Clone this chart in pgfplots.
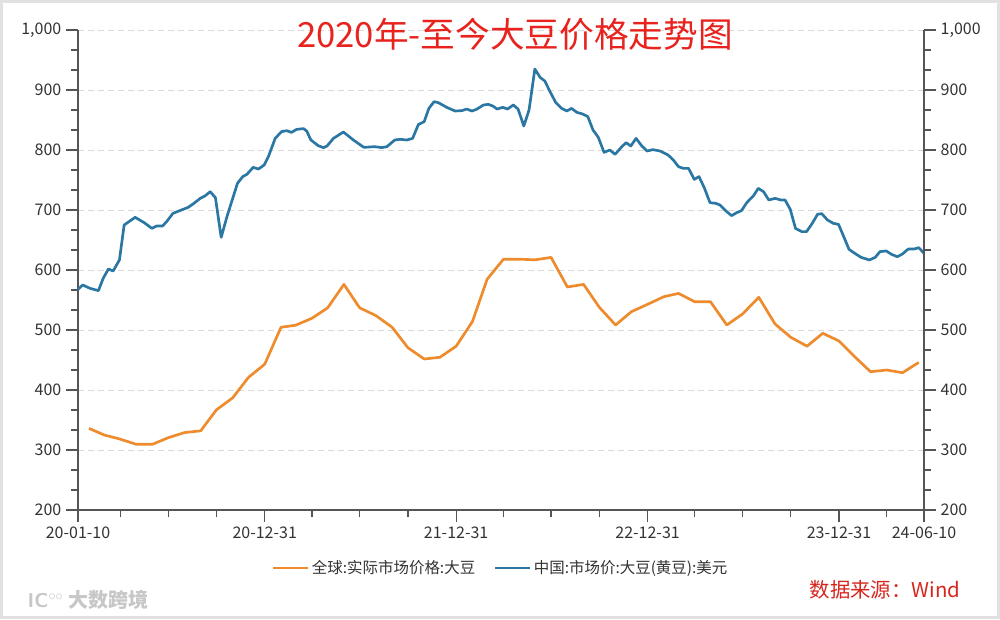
\documentclass[border=0pt]{standalone}
\usepackage{fontspec}
\setmainfont{Noto Sans CJK SC}
\usepackage{pgfplots}
\pgfplotsset{compat=1.18}
\definecolor{cblue}{HTML}{2A77A3}
\definecolor{corange}{HTML}{EE8B2C}
\definecolor{axgray}{HTML}{555555}
\definecolor{gridgray}{HTML}{D9D9D9}
\definecolor{titlered}{HTML}{E8231E}
\definecolor{srcred}{HTML}{D7261E}
\definecolor{labgray}{HTML}{333333}

\pgfplotsset{
  common/.style={
    at={(58.5pt,81.75pt)}, anchor=south west, scale only axis,
    width=634.5pt, height=360pt,
    xmin=0, xmax=1613, ymin=200, ymax=1000,
    ytick={200,300,...,1000}, minor y tick num=2,
    tick align=outside, major tick length=9pt, minor tick length=5pt,
    every tick/.style={axgray, line width=0.9pt},
    axis line style={axgray, line width=1.1pt},
    tick label style={font=\fontsize{12}{14}\selectfont, text=labgray},
    /pgf/number format/assume math mode=true,
    /pgf/number format/1000 sep={,},
    scaled y ticks=false,
    clip=false,
  }
}

\begin{document}
\begin{tikzpicture}
\path[use as bounding box] (0,0) rectangle (750pt,464.25pt);
\fill[white] (0,0) rectangle (750pt,464.25pt);
\draw[gridgray!80, line width=2.25pt] (1.125pt,1.125pt) rectangle (748.875pt,463.125pt);

\begin{axis}[common,
  axis x line*=bottom, axis y line*=left,
  xtick={0,356,721,1086,1451,1613},
  xticklabels={20-01-10,20-12-31,21-12-31,22-12-31,23-12-31,24-06-10},
  minor xtick={81,172,264,446,537,629,811,902,994,1176,1267,1359,1542},
  ymajorgrids,
  grid style={gridgray, line width=0.75pt, dash pattern=on 4.5pt off 3pt},
  legend style={at={(0.5,-0.121)}, anchor=center, draw=none, fill=none,
    font=\fontsize{11.6}{14}\selectfont, text=labgray,
    /tikz/every even column/.append style={column sep=12pt}},
  legend columns=2,
  legend image code/.code={\path (0pt,0pt) -- (26pt,0pt);\draw[#1] (0pt,0pt) -- (22pt,0pt);},
]
\addplot[corange, line width=2pt, line join=round] table {
x y
21 336
50 325
81 318
111 309.5
142 309.5
172 320.5
203 329
234 332
264 367
295 387
325 421
356 443
387 504.5
415 508
446 519.5
476 537
507 576
537 537
568 524
599 504.5
629 470.5
660 451.7
690 454.5
721 473
752 514
780 584.5
811 617.8
841 618
872 617
902 621
933 571.7
964 576
994 537.8
1025 508.3
1055 530.5
1086 542.8
1117 555.5
1145 561
1176 547
1206 547
1237 508.3
1267 526.7
1298 554.5
1329 510
1359 487.8
1390 473
1420 494.5
1451 481.7
1482 454.5
1511 430.5
1542 433.3
1572 428.8
1603 446
};
\addlegendentry{全球:实际市场价格:大豆}
\addplot[cblue, line width=2pt, line join=round] table {
x y
0 567.8
9 575
23 569.4
39 565.6
48 586.1
58 601.7
67 598.3
79 616.7
88 675
109 687.8
126 679
141 669.4
150 673.3
161 673.3
169 680.6
181 694.4
194 698.9
210 704.4
221 711.1
233 719.4
242 723.3
252 730.6
262 720.6
273 654.4
284 688.9
293 713.9
304 744.4
314 755.6
322 759.4
334 771.1
344 768.3
355 775
363 788.9
376 819.4
388 830.6
398 832.2
407 829.4
417 834.4
430 835.6
436 831.7
444 816.7
458 807.2
468 803.9
475 806.7
487 819.4
506 830
525 816.7
545 804.4
566 805.6
579 803.9
589 805.6
604 816.7
614 817.8
627 816.7
638 819.4
649 842.5
660 847.2
669 869.4
679 880.6
687 878.9
703 871.1
719 865
732 865.6
741 868.3
751 865
760 867.8
773 875
782 876.1
791 873.3
799 868.3
810 871.1
819 868.3
830 875
839 868.3
850 840
860 866.7
871 935
881 921.1
890 915
900 897.2
911 878.9
922 869.4
932 865
941 869.4
951 862.8
962 860
972 855.6
982 833.3
992 821.1
1003 796.1
1014 800
1024 792.8
1037 805.6
1045 812.2
1054 806.7
1064 819.4
1075 806.7
1085 798.3
1096 800.6
1110 798.3
1125 791.7
1135 783.3
1145 772.2
1154 769.4
1164 769.4
1175 751.1
1184 755.6
1194 737.2
1205 712.2
1216 711.1
1224 708.3
1237 697.2
1246 690.6
1256 695.6
1265 698.9
1275 712.2
1288 723.9
1297 736.1
1307 730.6
1317 716.7
1329 719.4
1340 716.7
1348 716.7
1358 701.1
1368 669.4
1380 663.9
1389 663.9
1400 677.8
1410 692.8
1418 693.9
1429 683.3
1440 677.8
1450 676.1
1460 655.6
1470 634.4
1481 627.8
1493 621.1
1509 616.7
1520 621.1
1529 630.6
1541 631.7
1551 626.1
1562 622.2
1572 626.7
1583 635
1594 635
1603 637.2
1613 627.8
};
\addlegendentry{中国:市场价:大豆(黄豆):美元}
\end{axis}

\begin{axis}[common,
  axis x line=none, axis y line*=right,
]
\end{axis}

\node[text=titlered, font=\fontsize{26}{31}\selectfont] at (386.25pt,438.75pt) {2020年-至今大豆价格走势图};
\node[text=srcred, font=\fontsize{15.3}{18}\selectfont] at (663.75pt,21.75pt) {数据来源：Wind};
\node[text=black!22, font=\bfseries\fontsize{15}{18}\selectfont] at (66pt,14.5pt) {\textsf{IC}$^{\circ\circ}$\ 大数跨境};
\end{tikzpicture}
\end{document}
